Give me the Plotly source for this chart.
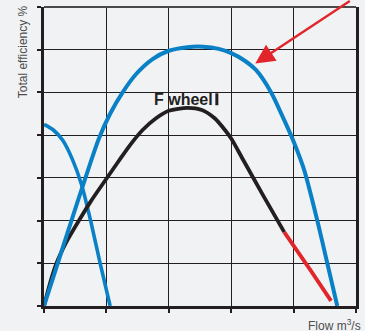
import plotly.graph_objects as go

# Data (flow in grid units, efficiency in grid units)
blue_main_x = [0.0, 0.22, 0.44, 0.66, 0.88, 1.06, 1.26, 1.47, 1.74, 1.99, 2.3, 2.55, 2.8, 3.0, 3.2, 3.4, 3.64, 3.85, 4.0, 4.17, 4.38, 4.54, 4.70]
blue_main_y = [0.0, 1.0, 2.0, 2.98, 3.92, 4.5, 5.0, 5.42, 5.78, 5.97, 6.06, 6.07, 6.02, 5.92, 5.76, 5.52, 5.0, 4.35, 3.85, 3.18, 2.0, 1.0, 0.0]

blue_left_x = [0.0, 0.15, 0.3, 0.45, 0.6, 0.75, 0.9, 1.06]
blue_left_y = [4.25, 4.12, 3.88, 3.45, 2.85, 1.98, 1.0, 0.0]

black_x = [0.0, 0.1, 0.2, 0.36, 0.56, 0.75, 1.0, 1.2, 1.37, 1.58, 1.79, 2.0, 2.3, 2.53, 2.74, 2.9, 3.0, 3.2, 3.5, 3.85]
black_y = [0.0, 0.55, 1.0, 1.5, 2.0, 2.45, 2.98, 3.4, 3.75, 4.12, 4.39, 4.57, 4.64, 4.59, 4.39, 4.12, 3.92, 3.4, 2.62, 1.73]

red_x = [3.85, 4.27, 4.6]
red_y = [1.73, 0.84, 0.12]

x_ticks = [0, 1, 2, 3, 4, 5]
y_ticks = [0, 1, 2, 3, 4, 5, 6, 7]

BLUE = "#0a80c6"
DARK = "#231f20"
RED = "#e2252b"
BG = "#f1f2f4"

fig = go.Figure()
fig.add_trace(go.Scatter(x=blue_left_x, y=blue_left_y, mode="lines",
                         line=dict(color=BLUE, width=3.6, shape="spline", smoothing=0.7)))
fig.add_trace(go.Scatter(x=black_x, y=black_y, mode="lines",
                         line=dict(color=DARK, width=3.8, shape="spline", smoothing=0.7)))
fig.add_trace(go.Scatter(x=red_x, y=red_y, mode="lines",
                         line=dict(color=RED, width=3.8, shape="spline", smoothing=0.6)))
fig.add_trace(go.Scatter(x=blue_main_x, y=blue_main_y, mode="lines",
                         line=dict(color=BLUE, width=4, shape="spline", smoothing=0.7)))

fig.update_layout(
    width=365, height=331,
    margin=dict(l=44, r=6, t=7, b=25, pad=0),
    paper_bgcolor=BG, plot_bgcolor=BG,
    showlegend=False,
    xaxis=dict(range=[0, 5], tickvals=x_ticks, showticklabels=False,
               showgrid=True, gridcolor=DARK, gridwidth=1.3, zeroline=False,
               showline=True, linecolor=DARK, linewidth=2.5,
               ticks="outside", ticklen=4, tickwidth=1.5, tickcolor=DARK,
               fixedrange=True),
    yaxis=dict(range=[0, 7], tickvals=y_ticks, showticklabels=False,
               showgrid=True, gridcolor=DARK, gridwidth=1.3, zeroline=False,
               showline=True, linecolor=DARK, linewidth=2.5, mirror=True,
               ticks="outside", ticklen=4, tickwidth=1.5, tickcolor=DARK,
               fixedrange=True),
    font=dict(family="Liberation Sans, Arial, sans-serif"),
)

# top border (lighter)
fig.add_shape(type="line", xref="paper", yref="paper", x0=0, x1=1, y0=1, y1=1,
              line=dict(color="#4a4a4a", width=2.2))

# label "F wheel"
fig.add_annotation(x=2.24, y=4.84, text="<b>F wheel</b>", showarrow=False,
                   font=dict(size=16, color=DARK, family="Liberation Sans, Arial, sans-serif"),
                   xanchor="center", yanchor="middle")
# cursor-like bar after the label
fig.add_shape(type="line", x0=2.77, x1=2.77, y0=4.70, y1=4.98,
              line=dict(color=DARK, width=3))

# red arrow
fig.add_annotation(x=3.386, y=5.68, text="", showarrow=True,
                   ax=96, ay=-73, arrowhead=2, arrowsize=1.6, arrowwidth=2.4,
                   arrowcolor=RED, standoff=0)

# axis titles
fig.add_annotation(xref="paper", yref="paper", x=-0.067, y=0.849,
                   text="Total efficiency %", textangle=-90, showarrow=False,
                   font=dict(size=12, color="#4d4d4d"),
                   xanchor="center", yanchor="middle")
fig.add_annotation(xref="paper", yref="paper", x=1.022, y=-0.065,
                   text="Flow m<sup>3</sup>/s", showarrow=False,
                   font=dict(size=12, color="#4d4d4d"),
                   xanchor="right", yanchor="middle")

fig.write_html("out.html", config={"displayModeBar": False},
               post_script="document.body.style.margin='0';document.body.style.padding='0';")
